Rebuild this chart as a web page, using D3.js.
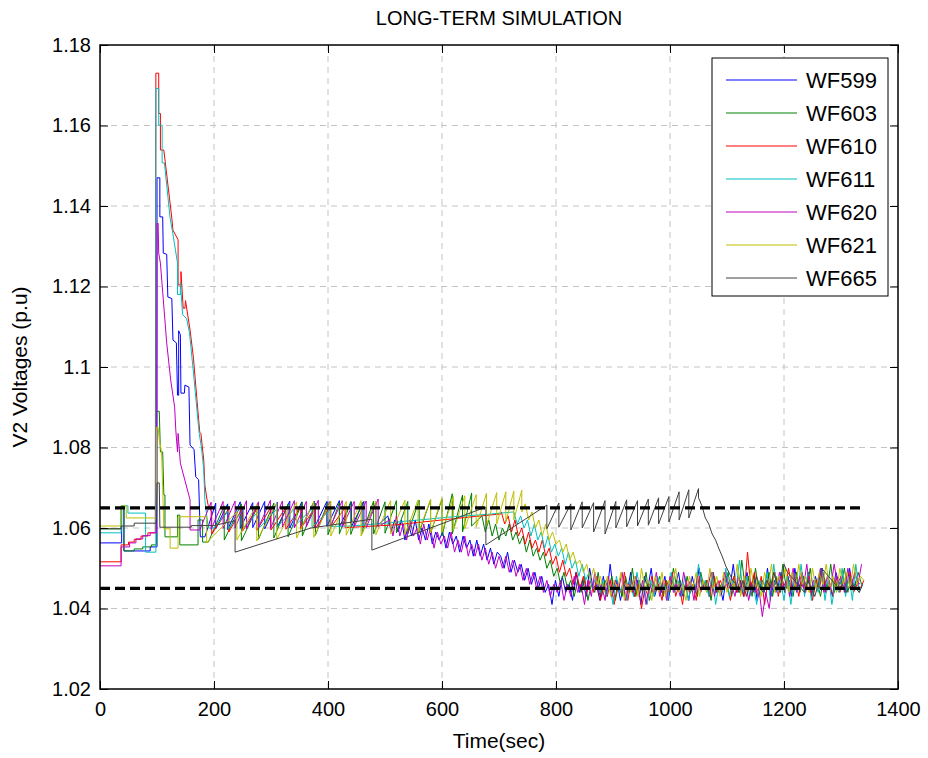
<!DOCTYPE html>
<html>
<head>
<meta charset="utf-8">
<script src="https://cdn.jsdelivr.net/npm/d3@7"></script>
<style>
  body { margin: 0; background: #fff; }
  svg { display: block; }
  text { font-family: "Liberation Sans", Arial, Helvetica, sans-serif; fill: #000; }
</style>
</head>
<body>
<svg id="chart" width="928" height="758"></svg>
<script>
// ---- data -------------------------------------------------------------
const seriesNames = ["WF599", "WF603", "WF610", "WF611", "WF620", "WF621", "WF665"];
const xTicks = [0, 200, 400, 600, 800, 1000, 1200, 1400];
const yTicks = [1.02, 1.04, 1.06, 1.08, 1.1, 1.12, 1.14, 1.16, 1.18];
const yTickLabels = ["1.02", "1.04", "1.06", "1.08", "1.1", "1.12", "1.14", "1.16", "1.18"];
const voltageLimits = [1.045, 1.065];   // regulation band (p.u)
const limitSpan = [0, 1340];            // time span of the band lines (sec)

// recorded samples after each tail start are 6 s apart
const tailStep = 6;
const tailStarts = [505, 670, 704, 726, 508, 746, 1050];

// [time, voltage] points: start-up steps, disturbance spike, tap-changer sawtooth
const wf599Steps = [[0,1.0563],[38,1.0563],[38,1.0652],[42,1.0652],[42,1.0543],[88,1.0543],[88,1.0553],[100,1.0553],
  [100,1.147],[105,1.147],[105,1.1373],[110,1.1373],[111,1.1283],[117,1.128],[119,1.1174],[126,1.117],[128,1.1067],[134,1.106],[136,1.093],[138,1.093],[138,1.109],[141,1.108],[142,1.0935],[148,1.0935],[149,1.0955],[156,1.095],[158,1.0806],[165,1.0795],[168,1.0727],[173,1.072],[176,1.0578],[184,1.0578],
  [203,1.0662],[203,1.0598],[224,1.0660],[224,1.0596],[246,1.0665],[246,1.0599],[268,1.0663],[268,1.0601],[289,1.0666],[289,1.0598],[311,1.0664],[311,1.0602],[333,1.0667],[333,1.0600],[354,1.0665],[354,1.0603],[376,1.0667],[376,1.0601],[398,1.0666],[398,1.0604],[420,1.0668],[420,1.0602],[441,1.0665],[441,1.0603],[463,1.0666],[463,1.0600],[484,1.0662],[484,1.0602],[505,1.0630]];
const wf603Steps = [[0,1.0598],[37,1.0598],[37,1.0655],[42,1.0655],[42,1.0543],[60,1.0543],[60,1.0548],[75,1.0548],[75,1.0553],[90,1.0553],[90,1.0558],[99,1.0558],
  [99,1.089],[104,1.089],[106,1.0789],[110,1.0789],[112,1.0682],[114,1.0682],[114,1.0578],[136,1.0578],[136,1.0632],[140,1.0632],[140,1.0558],[172,1.0558],[172,1.062],[180,1.062],[180,1.0565],[190,1.0565],
  [218,1.0655],[218,1.0570],[248,1.0660],[248,1.0568],[278,1.0658],[278,1.0572],[305,1.0662],[305,1.0575],[330,1.0660],[330,1.0578],[355,1.0664],[355,1.0580],[378,1.0662],[378,1.0582],[400,1.0665],[400,1.0583],[420,1.0663],[420,1.0585],[440,1.0666],[440,1.0584],[460,1.0664],[460,1.0586],[480,1.0667],[480,1.0585],[500,1.0665],[500,1.0587],[520,1.0668],[520,1.0588],[540,1.0666],[540,1.0586],[560,1.0669],[560,1.0589],[580,1.0670],[580,1.0587],[600,1.0672],[600,1.0580],[618,1.0685],[618,1.0585],[636,1.0682],[636,1.0590],[652,1.0687],[652,1.0605],[670,1.0630]];
const wf610Steps = [[0,1.0516],[37,1.0516],[37,1.0558],[50,1.0558],[50,1.0565],[60,1.0565],[60,1.0572],[72,1.0572],[72,1.058],[84,1.058],[84,1.0588],[97,1.0588],
  [98,1.173],[103,1.173],[103,1.163],[106,1.163],[106,1.1539],[112,1.1539],[126,1.137],[128,1.134],[137,1.1316],[137,1.1204],[142,1.1204],[142,1.1237],[146,1.1146],[149,1.1146],[150,1.1165],[158,1.1092],[164,1.1022],[170,1.092],[175,1.0838],[177,1.0835],[182,1.0769],[184,1.0707],[187,1.0677],[190,1.0655],[196,1.0640],[196,1.0585],
  [226,1.0648],[226,1.0590],[250,1.0650],[250,1.0592],[275,1.0648],[275,1.0594],[300,1.0652],[300,1.0595],[326,1.0651],[326,1.0597],[352,1.0653],[352,1.0598],[378,1.0652],[378,1.0599],[404,1.0654],[404,1.0600],[430,1.0650],[430,1.0601],[456,1.0603],[520,1.0608],[580,1.0617],[640,1.0626],[704,1.0635]];
const wf611Steps = [[0,1.0588],[37,1.0588],[37,1.0655],[49,1.0655],[49,1.0637],[80,1.0637],[80,1.054],[98,1.054],
  [98,1.1692],[103,1.1692],[103,1.1601],[109,1.1601],[109,1.1507],[113,1.1507],[123,1.137],[128,1.133],[136,1.1258],[136,1.118],[141,1.118],[141,1.121],[145,1.113],[152,1.112],[157,1.1085],[163,1.100],[169,1.091],[174,1.0835],[178,1.080],[182,1.0745],[184,1.0668],[190,1.060],[200,1.060],
  [225,1.0642],[225,1.0598],[252,1.0646],[252,1.0600],[280,1.0645],[280,1.0601],[310,1.0647],[310,1.0602],[340,1.0646],[340,1.0603],[372,1.0648],[372,1.0603],[405,1.0647],[405,1.0604],[440,1.0605],[500,1.0612],[560,1.0620],[620,1.0628],[680,1.0634],[726,1.0640]];
const wf620Steps = [[0,1.0506],[37,1.0506],[37,1.0553],[52,1.0553],[52,1.0563],[63,1.0563],[63,1.0573],[75,1.0573],[75,1.0581],[88,1.0581],[88,1.0588],[99,1.0588],
  [100,1.1357],[102,1.1357],[103,1.1283],[106,1.1258],[117,1.106],[124,1.0968],[131,1.090],[133,1.0843],[136,1.0789],[137,1.0835],[141,1.0761],[158,1.067],[158,1.0595],[175,1.0595],
  [195,1.0664],[195,1.0597],[216,1.0666],[216,1.0599],[237,1.0667],[237,1.0600],[257,1.0668],[257,1.0598],[278,1.0665],[278,1.0601],[299,1.0669],[299,1.0599],[320,1.0667],[320,1.0602],[341,1.0668],[341,1.0600],[362,1.0666],[362,1.0603],[383,1.0669],[383,1.0601],[404,1.0667],[404,1.0604],[425,1.0668],[425,1.0602],[446,1.0666],[446,1.0603],[467,1.0667],[467,1.0601],[488,1.0672],[488,1.0603],[508,1.0620]];
const wf621Steps = [[0,1.0605],[37,1.0605],[37,1.0655],[46,1.0655],[46,1.0625],[99,1.0625],[99,1.085],[102,1.085],[104,1.0819],[108,1.0789],[110,1.070],[112,1.0598],[123,1.0598],[123,1.055],[137,1.055],[137,1.0628],[187,1.0628],[187,1.0563],
  [240,1.0640],[240,1.0570],[275,1.0658],[275,1.0568],[310,1.0662],[310,1.0572],[345,1.0665],[345,1.0575],[375,1.0666],[375,1.0577],[405,1.0667],[405,1.0580],[432,1.0666],[432,1.0582],[458,1.0668],[458,1.0580],[484,1.0667],[484,1.0583],[510,1.0668],[510,1.0585],[535,1.0669],[535,1.0584],[558,1.0670],[558,1.0586],[580,1.0671],[580,1.0588],[600,1.0675],[600,1.0590],[620,1.0678],[620,1.0594],[640,1.0680],[640,1.0598],[660,1.0683],[660,1.0602],[678,1.0686],[678,1.0606],[696,1.0688],[696,1.0610],[712,1.0690],[712,1.0615],[726,1.0692],[726,1.0620],[740,1.0694],[740,1.0640],[746,1.0660]];
const wf665Steps = [[0,1.0598],[37,1.0598],[37,1.0605],[60,1.0605],[60,1.0612],[99,1.0612],[100,1.0712],[104,1.0712],[105,1.0602],[160,1.0602],[160,1.0606],[200,1.0606],[237,1.0618],[237,1.0540],[370,1.0600],[477,1.0622],[477,1.0545],[677,1.0652],[677,1.0558],
  [784,1.0657],[784,1.0598],[805,1.0662],[805,1.0602],[826,1.0660],[826,1.0595],[846,1.0665],[846,1.0600],[866,1.0663],[866,1.0590],[886,1.0668],[886,1.0585],[905,1.0666],[905,1.0600],[924,1.0670],[924,1.0603],[943,1.0668],[943,1.0605],[962,1.0672],[962,1.0607],[980,1.0675],[980,1.0610],[998,1.0678],[998,1.0615],[1016,1.0690],[1016,1.0620],[1033,1.0695],[1033,1.0625],[1050,1.0698],[1050,1.0675]];

// voltage samples every tailStep seconds from each tail start
const wf599Tail = [1.063,1.059,1.062,1.059,1.062,1.057,1.061,1.058,1.062,1.057,1.060,1.057,1.061,1.056,1.059,1.057,
  1.059,1.055,1.059,1.056,1.058,1.054,1.058,1.055,1.057,1.053,1.057,1.053,1.056,1.052,1.055,1.051,1.054,
  1.053,1.050,1.054,1.049,1.052,1.049,1.051,1.047,1.050,1.046,
  1.049,1.045,1.048,1.044,1.046,1.041,
  1.047,1.043,1.048,1.044,1.046,1.042,1.049,1.044,1.047,1.043,
  1.050,1.045,1.046,1.042,1.048,1.043,1.051,1.044,1.047,1.042,
  1.046,1.044,1.049,1.043,1.047,1.041,1.048,1.045,1.050,1.043,
  1.046,1.044,1.048,1.042,1.047,1.045,1.049,1.043,1.046,1.042,
  1.048,1.044,1.050,1.045,1.047,1.043,1.049,1.044,1.046,1.042,
  1.048,1.045,1.051,1.044,1.047,1.043,1.049,1.045,1.048,1.042,
  1.046,1.044,1.050,1.043,1.047,1.045,1.049,1.044,1.048,1.043,
  1.050,1.045,1.047,1.044,1.049,1.043,1.048,1.045,1.050,1.044,
  1.047,1.043,1.049,1.046,1.048,1.044,1.050,1.045,1.047,1.046];
const wf603Tail = [1.063,1.059,1.062,1.058,1.061,1.057,1.060,1.058,1.061,1.057,
  1.059,1.056,1.058,1.054,1.057,1.053,1.055,
  1.052,1.054,1.050,1.052,1.048,1.050,
  1.046,1.049,1.045,1.047,
  1.043,1.047,1.044,1.048,1.042,1.046,1.044,1.049,1.043,1.047,
  1.045,1.048,1.042,1.046,1.043,1.048,1.044,1.050,1.043,1.047,
  1.044,1.049,1.042,1.046,1.045,1.048,1.043,1.047,1.044,1.050,
  1.045,1.047,1.043,1.048,1.044,1.046,1.043,1.049,1.045,1.047,
  1.042,1.048,1.044,1.046,1.045,1.049,1.043,1.047,1.044,1.052,
  1.045,1.048,1.043,1.050,1.044,1.047,1.045,1.049,1.043,1.048,
  1.044,1.051,1.045,1.047,1.043,1.049,1.044,1.048,1.045,1.050,
  1.044,1.047,1.043,1.048,1.045,1.051,1.044,1.047,1.046,1.050,
  1.044,1.048,1.045,1.049,1.046];
const wf610Tail = [1.064,1.061,1.063,1.059,1.062,1.058,1.060,1.056,1.059,1.055,1.057,
  1.054,1.057,1.053,1.055,1.051,1.053,
  1.049,1.052,1.048,1.050,1.046,1.049,1.045,1.048,1.044,1.047,
  1.044,1.048,1.042,1.046,1.043,1.047,1.041,1.046,1.044,1.049,
  1.042,1.047,1.043,1.046,1.040,1.045,1.043,1.048,1.044,1.046,
  1.042,1.047,1.044,1.049,1.043,1.046,1.041,1.047,1.044,1.046,
  1.042,1.048,1.045,1.047,1.043,1.049,1.044,1.047,1.045,1.046,
  1.042,1.048,1.044,1.047,1.043,1.054,1.045,1.049,1.043,1.048,
  1.041,1.047,1.045,1.049,1.043,1.048,1.044,1.050,1.045,1.047,
  1.043,1.049,1.044,1.048,1.042,1.047,1.045,1.049,1.044,1.046,
  1.043,1.048,1.044,1.047,1.045,1.049,1.044,1.046,1.045,1.047];
const wf611Tail = [1.064,1.061,1.063,1.060,1.062,
  1.058,1.061,1.057,1.059,1.055,1.058,1.054,1.056,
  1.053,1.055,1.051,1.054,1.050,1.052,1.048,1.051,1.047,1.049,1.045,1.048,
  1.044,1.047,1.043,1.046,1.041,1.048,1.044,1.046,1.042,1.047,
  1.043,1.049,1.044,1.046,1.041,1.047,1.043,1.048,1.045,1.046,
  1.042,1.049,1.044,1.047,1.043,1.048,1.042,1.046,1.044,1.051,
  1.045,1.047,1.043,1.049,1.041,1.046,1.044,1.050,1.043,1.047,
  1.045,1.052,1.044,1.048,1.043,1.046,1.041,1.047,1.044,1.049,
  1.042,1.051,1.044,1.047,1.042,1.048,1.041,1.047,1.044,1.051,
  1.043,1.049,1.042,1.047,1.044,1.050,1.042,1.048,1.041,1.046,
  1.044,1.050,1.043,1.048,1.042,1.051,1.044,1.046];
const wf620Tail = [1.062,1.058,1.063,1.058,1.061,1.057,1.062,1.058,1.060,1.056,1.061,1.057,1.060,1.055,1.059,1.056,
  1.058,1.055,1.059,1.054,1.057,1.054,1.058,1.053,1.056,1.053,1.056,1.052,1.055,1.051,1.054,1.050,1.053,
  1.050,1.053,1.049,1.052,1.048,1.051,1.047,1.050,1.046,1.049,1.045,1.048,1.044,1.047,1.043,1.046,
  1.044,1.047,1.042,1.046,1.043,1.048,1.044,1.046,1.041,1.047,
  1.043,1.049,1.044,1.046,1.042,1.048,1.043,1.047,1.045,1.049,
  1.042,1.046,1.044,1.048,1.043,1.047,1.041,1.046,1.044,1.049,
  1.043,1.047,1.042,1.048,1.044,1.046,1.043,1.049,1.045,1.047,
  1.042,1.048,1.044,1.046,1.045,1.049,1.043,1.047,1.044,1.049,
  1.045,1.046,1.043,1.048,1.044,1.047,1.042,1.046,1.044,1.045,
  1.038,1.044,1.040,1.047,1.044,1.049,1.045,1.047,1.043,1.050,
  1.044,1.048,1.045,1.051,1.044,1.047,1.046,1.050,1.044,1.048,
  1.045,1.051,1.046,1.048,1.044,1.050,1.045,1.049,1.046,1.051];
const wf621Tail = [1.066,1.062,1.064,1.060,
  1.062,1.058,1.061,1.057,1.059,1.056,
  1.057,1.054,1.056,1.052,1.054,1.051,
  1.052,1.049,1.051,1.047,1.050,1.046,1.048,
  1.044,1.048,1.043,1.047,1.045,1.049,1.042,1.046,1.044,1.048,
  1.043,1.050,1.045,1.047,1.042,1.048,1.044,1.049,1.043,1.047,
  1.045,1.050,1.044,1.046,1.042,1.048,1.045,1.049,1.043,1.047,
  1.044,1.050,1.045,1.048,1.043,1.049,1.044,1.047,1.045,1.051,
  1.043,1.048,1.044,1.050,1.045,1.047,1.043,1.049,1.045,1.051,
  1.044,1.048,1.046,1.050,1.044,1.049,1.045,1.051,1.046,1.048,
  1.044,1.050,1.045,1.049,1.046,1.051,1.045,1.048,1.044,1.050,
  1.046,1.049,1.045,1.051,1.046,1.048,1.047];
const wf665Tail = [1.0675,1.0655,1.0625,1.0610,1.0585,1.0570,1.0548,1.0528,1.0505,1.0488,1.0470,
  1.046,1.044,1.047,1.043,1.046,1.044,1.048,1.045,1.044,1.047,
  1.045,1.049,1.046,1.044,1.051,1.049,1.048,1.047,1.046,1.045,
  1.044,1.047,1.045,1.043,1.046,1.050,1.049,1.048,1.047,1.046,
  1.045,1.046,1.044,1.045,1.046,1.045,1.044,1.046];

const seriesSteps = [wf599Steps, wf603Steps, wf610Steps, wf611Steps, wf620Steps, wf621Steps, wf665Steps];
const seriesTails = [wf599Tail, wf603Tail, wf610Tail, wf611Tail, wf620Tail, wf621Tail, wf665Tail];
const seriesColors = ["#0000ff", "#008000", "#ff0000", "#00bfbf", "#bf00bf", "#bfbf00", "#404040"];

// ---- layout -----------------------------------------------------------
const plot = { left: 100, right: 898, top: 45, bottom: 689 };
const svg = d3.select("#chart");

const x = d3.scaleLinear().domain([0, 1400]).range([plot.left, plot.right]);
const y = d3.scaleLinear().domain([1.02, 1.18]).range([plot.bottom, plot.top]);

svg.append("rect").attr("width", 928).attr("height", 758).attr("fill", "#fff");

svg.append("defs").append("clipPath").attr("id", "plotClip")
  .append("rect")
  .attr("x", plot.left).attr("y", plot.top)
  .attr("width", plot.right - plot.left).attr("height", plot.bottom - plot.top);

// grid
const grid = svg.append("g").attr("stroke", "#c4c4c4").attr("stroke-width", 1)
  .attr("stroke-dasharray", "6,5").attr("fill", "none");
grid.selectAll("line.vx").data(xTicks.slice(1, -1)).join("line")
  .attr("x1", d => x(d)).attr("x2", d => x(d))
  .attr("y1", plot.top).attr("y2", plot.bottom);
grid.selectAll("line.hy").data(yTicks.slice(1, -1)).join("line")
  .attr("y1", d => y(d)).attr("y2", d => y(d))
  .attr("x1", plot.left).attr("x2", plot.right);

// series
const series = seriesNames.map((name, i) => ({
  name,
  color: seriesColors[i],
  points: seriesSteps[i].concat(seriesTails[i].map((v, k) => [tailStarts[i] + k * tailStep, v]))
}));

const line = d3.line().x(d => x(d[0])).y(d => y(d[1]));
const lines = svg.append("g").attr("clip-path", "url(#plotClip)");
lines.selectAll("path").data(series).join("path")
  .attr("d", d => line(d.points))
  .attr("fill", "none")
  .attr("stroke", d => d.color)
  .attr("stroke-width", 1)
  .attr("stroke-linejoin", "miter");

// regulation band limits
svg.append("g").selectAll("line").data(voltageLimits).join("line")
  .attr("x1", x(limitSpan[0])).attr("x2", x(limitSpan[1]))
  .attr("y1", d => y(d)).attr("y2", d => y(d))
  .attr("stroke", "#000").attr("stroke-width", 3.2)
  .attr("stroke-dasharray", "10,5");

// axes
const tickLen = 8;
const fontSize = 20;
function styleAxis(g) {
  g.select(".domain").remove();
  g.selectAll(".tick line").attr("stroke", "#000").attr("stroke-width", 1);
  g.selectAll(".tick text").attr("font-size", fontSize)
    .attr("font-family", '"Liberation Sans", Arial, sans-serif').attr("fill", "#000");
}
svg.append("g").attr("transform", `translate(0,${plot.bottom})`)
  .call(d3.axisBottom(x).tickValues(xTicks).tickSize(-tickLen).tickPadding(13).tickFormat(d3.format("d")))
  .call(styleAxis);
svg.append("g").attr("transform", `translate(${plot.left},0)`)
  .call(d3.axisLeft(y).tickValues(yTicks).tickSize(-tickLen).tickPadding(9).tickFormat((d, i) => yTickLabels[i]))
  .call(styleAxis);
svg.append("g").attr("transform", `translate(0,${plot.top})`)
  .call(d3.axisTop(x).tickValues(xTicks).tickSize(-tickLen).tickFormat(""))
  .call(styleAxis);
svg.append("g").attr("transform", `translate(${plot.right},0)`)
  .call(d3.axisRight(y).tickValues(yTicks).tickSize(-tickLen).tickFormat(""))
  .call(styleAxis);

svg.append("rect")
  .attr("x", plot.left).attr("y", plot.top)
  .attr("width", plot.right - plot.left).attr("height", plot.bottom - plot.top)
  .attr("fill", "none").attr("stroke", "#000").attr("stroke-width", 1.5);

// titles
svg.append("text").attr("x", (plot.left + plot.right) / 2).attr("y", 25)
  .attr("text-anchor", "middle").attr("font-size", 20).text("LONG-TERM SIMULATION");
svg.append("text").attr("x", (plot.left + plot.right) / 2).attr("y", 748)
  .attr("text-anchor", "middle").attr("font-size", 21).text("Time(sec)");
svg.append("text").attr("transform", `translate(27,${(plot.top + plot.bottom) / 2}) rotate(-90)`)
  .attr("text-anchor", "middle").attr("font-size", 21).text("V2 Voltages (p.u)");

// legend
const legend = svg.append("g").attr("transform", "translate(712,58)");
legend.append("rect").attr("width", 176).attr("height", 238)
  .attr("fill", "#fff").attr("stroke", "#000").attr("stroke-width", 1);
const entry = legend.selectAll("g.entry").data(series).join("g")
  .attr("class", "entry")
  .attr("transform", (d, i) => `translate(0,${22 + i * 33})`);
entry.append("line").attr("x1", 14).attr("x2", 85)
  .attr("stroke", d => d.color).attr("stroke-width", 1);
entry.append("text").attr("x", 94).attr("dy", "0.36em")
  .attr("font-size", 22).text(d => d.name);
</script>
</body>
</html>
